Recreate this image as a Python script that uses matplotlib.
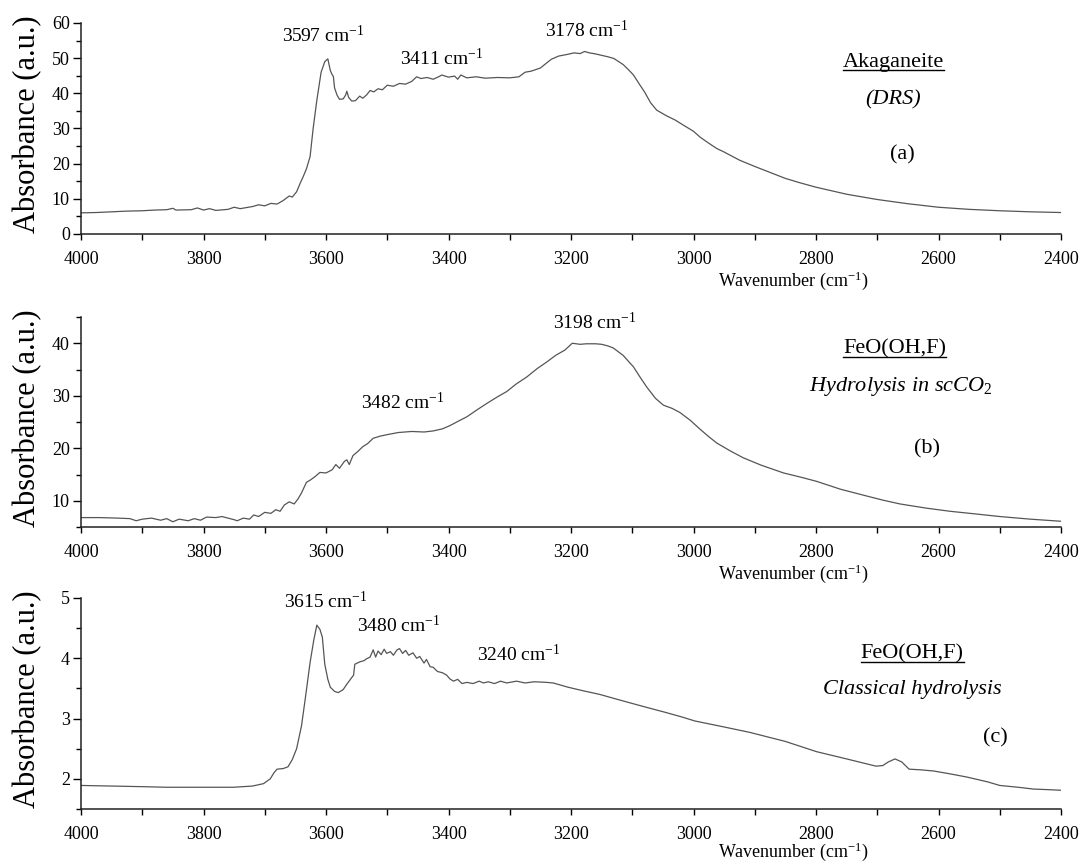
import matplotlib
matplotlib.use("Agg")
import matplotlib.pyplot as plt
from matplotlib.ticker import MultipleLocator
from matplotlib.lines import Line2D

plt.rcParams['font.family'] = ['Liberation Serif', 'DejaVu Serif']
plt.rcParams['mathtext.fontset'] = 'custom'
plt.rcParams['mathtext.rm'] = 'Liberation Serif'
plt.rcParams['mathtext.it'] = 'Liberation Serif:italic'

# (a) akaganeite, DRS
wn_a = [4000, 3975, 3950, 3925, 3900, 3880, 3860, 3850, 3845, 3820, 3810, 3800, 3790,
        3780, 3760, 3750, 3740, 3720, 3710, 3700, 3690, 3680, 3670, 3660, 3655, 3648,
        3642, 3638, 3632, 3626, 3621, 3615, 3608, 3602, 3597, 3593, 3590, 3588, 3586,
        3582, 3578, 3572, 3568, 3566, 3563, 3558, 3552, 3545, 3540, 3534, 3528, 3522,
        3515, 3508, 3500, 3490, 3480, 3470, 3460, 3452, 3445, 3435, 3425, 3415, 3411,
        3400, 3390, 3385, 3380, 3370, 3355, 3340, 3320, 3300, 3285, 3275, 3265, 3250,
        3240, 3232, 3220, 3205, 3195, 3185, 3178, 3170, 3160, 3150, 3140, 3130, 3115,
        3105, 3098, 3088, 3080, 3070, 3060, 3044, 3030, 3017, 3000, 2989, 2975, 2962,
        2950, 2925, 2900, 2875, 2850, 2825, 2800, 2750, 2700, 2650, 2600, 2550, 2500,
        2450, 2400]
abs_a = [6.0, 6.1, 6.3, 6.5, 6.6, 6.8, 6.9, 7.3, 6.8, 6.9, 7.4, 6.8, 7.2,
         6.7, 7.0, 7.6, 7.2, 7.8, 8.3, 8.0, 8.7, 8.5, 9.5, 10.8, 10.5, 12.0,
         14.5, 16.0, 18.5, 22.0, 30.0, 38.0, 46.0, 49.0, 49.8, 46.5, 45.3, 44.8, 41.5,
         39.5, 38.3, 38.4, 39.5, 40.6, 38.8, 37.8, 37.9, 39.2, 38.6, 39.5, 40.8, 40.4,
         41.3, 41.0, 42.3, 42.0, 42.8, 42.6, 43.4, 44.7, 44.2, 44.5, 44.0, 44.8, 45.2,
         44.6, 44.9, 44.0, 45.2, 44.4, 44.7, 44.3, 44.5, 44.4, 44.7, 46.0, 46.3, 47.2,
         48.6, 49.7, 50.6, 51.1, 51.5, 51.3, 51.9, 51.5, 51.2, 50.8, 50.4, 49.9, 48.2,
         46.5, 45.2, 42.5, 40.4, 37.3, 35.2, 33.6, 32.4, 31.0, 29.2, 27.5, 25.8, 24.3,
         23.3, 21.0, 19.2, 17.5, 15.8, 14.5, 13.3, 11.3, 9.8, 8.6, 7.6, 7.0, 6.6,
         6.3, 6.1]

# (b) FeO(OH,F), hydrolysis in scCO2
wn_b = [4000, 3970, 3940, 3920, 3910, 3900, 3885, 3870, 3860, 3850, 3840, 3825, 3815,
        3805, 3795, 3780, 3770, 3760, 3750, 3745, 3735, 3725, 3718, 3710, 3700, 3690,
        3682, 3675, 3668, 3660, 3652, 3646, 3640, 3632, 3625, 3618, 3610, 3600, 3590,
        3584, 3578, 3570, 3566, 3562, 3556, 3548, 3540, 3532, 3523, 3512, 3500, 3482,
        3460, 3440, 3425, 3410, 3398, 3385, 3370, 3355, 3338, 3320, 3305, 3290, 3272,
        3255, 3240, 3225, 3210, 3198, 3185, 3175, 3160, 3150, 3140, 3131, 3115, 3098,
        3087, 3076, 3062, 3049, 3035, 3022, 3005, 2989, 2975, 2962, 2940, 2919, 2890,
        2853, 2825, 2799, 2760, 2717, 2690, 2663, 2620, 2581, 2540, 2500, 2450, 2400]
abs_b = [6.8, 6.8, 6.7, 6.6, 6.2, 6.5, 6.7, 6.3, 6.6, 6.0, 6.5, 6.2, 6.6,
         6.3, 6.9, 6.8, 7.0, 6.7, 6.4, 6.2, 6.7, 6.5, 7.3, 7.0, 7.8, 7.6,
         8.3, 8.0, 9.2, 9.8, 9.4, 10.3, 11.5, 13.5, 14.0, 14.6, 15.4, 15.3, 15.9,
         16.9, 16.2, 17.5, 17.8, 16.9, 18.6, 19.4, 20.3, 20.9, 21.9, 22.3, 22.6, 23.0,
         23.2, 23.1, 23.3, 23.7, 24.3, 25.1, 26.0, 27.2, 28.5, 29.8, 30.8, 32.2, 33.6,
         35.2, 36.4, 37.7, 38.7, 40.0, 39.8, 39.9, 39.9, 39.8, 39.5, 39.1, 37.7, 35.5,
         33.5, 31.6, 29.5, 28.2, 27.6, 26.8, 25.3, 23.6, 22.2, 21.0, 19.5, 18.2, 16.8,
         15.3, 14.5, 13.7, 12.2, 10.9, 10.1, 9.4, 8.6, 8.0, 7.5, 7.0, 6.5, 6.1]

# (c) FeO(OH,F), classical hydrolysis
wn_c = [4000, 3950, 3900, 3860, 3800, 3751, 3720, 3702, 3691, 3685, 3680, 3670, 3662,
        3655, 3648, 3640, 3634, 3626, 3620, 3615, 3610, 3606, 3602, 3597, 3593, 3586,
        3580, 3572, 3566, 3558, 3555, 3553, 3545, 3538, 3534, 3528, 3523, 3519, 3515,
        3510, 3505, 3501, 3495, 3490, 3484, 3480, 3475, 3470, 3465, 3458, 3452, 3447,
        3440, 3436, 3430, 3425, 3418, 3410, 3403, 3398, 3392, 3385, 3378, 3370, 3360,
        3350, 3343, 3335, 3325, 3315, 3305, 3289, 3275, 3260, 3240, 3229, 3205, 3180,
        3153, 3125, 3100, 3071, 3045, 3017, 2998, 2950, 2908, 2850, 2799, 2750, 2702,
        2691, 2682, 2671, 2660, 2648, 2630, 2608, 2580, 2554, 2520, 2500, 2470, 2445,
        2420, 2400]
abs_c = [1.89, 1.88, 1.87, 1.86, 1.86, 1.86, 1.88, 1.92, 2.00, 2.10, 2.16, 2.17, 2.20,
         2.32, 2.50, 2.88, 3.32, 3.93, 4.30, 4.55, 4.48, 4.35, 3.90, 3.65, 3.52, 3.45,
         3.43, 3.48, 3.57, 3.68, 3.72, 3.90, 3.94, 3.96, 3.99, 4.02, 4.14, 4.02, 4.12,
         4.06, 4.15, 4.08, 4.11, 4.05, 4.14, 4.16, 4.08, 4.13, 4.05, 4.09, 4.00, 4.03,
         3.92, 3.98, 3.86, 3.85, 3.78, 3.76, 3.72, 3.66, 3.62, 3.65, 3.58, 3.60, 3.58,
         3.62, 3.59, 3.61, 3.58, 3.62, 3.59, 3.62, 3.59, 3.61, 3.60, 3.59, 3.52, 3.46,
         3.40, 3.32, 3.25, 3.17, 3.10, 3.02, 2.96, 2.86, 2.77, 2.62, 2.45, 2.33, 2.21,
         2.22, 2.28, 2.33, 2.28, 2.16, 2.15, 2.13, 2.08, 2.03, 1.95, 1.89, 1.86, 1.83,
         1.82, 1.81]

# peak labels: (text, wavenumber, absorbance) of the label centre
peaks_a = [("3597", 3605, 56.3), ("3411", 3411, 50.0), ("3178", 3175, 58.0)]
peaks_b = [("3198", 3161, 44.0), ("3482", 3474, 28.8)]
peaks_c = [("3615", 3601, 4.94), ("3480", 3482, 4.55), ("3240", 3285, 4.07)]

titles = [("Akaganeite", "(DRS)", "(a)"),
          ("FeO(OH,F)", r"Hydrolysis in scCO$_\mathit{2}$", "(b)"),
          ("FeO(OH,F)", "Classical hydrolysis", "(c)")]

fig = plt.figure(figsize=(10.83, 8.64), dpi=100)
LINE = '#555555'

# axes boxes in figure fraction: left, bottom, width, height
boxes = [[0.0748, 0.7292, 0.9049, 0.2442],
         [0.0748, 0.3900, 0.9049, 0.2431],
         [0.0748, 0.0637, 0.9049, 0.2442]]
ylims = [(0, 60), (5, 45), (1.5, 5)]
ymajor = [10, 10, 1]
yminor = [5, 5, 0.5]
data = [(wn_a, abs_a), (wn_b, abs_b), (wn_c, abs_c)]
peaks = [peaks_a, peaks_b, peaks_c]
xlabel_y = [-0.168, -0.168, -0.150]
# label anchor positions (axes fraction): name, subtitle, panel letter
label_pos = [((0.829, 0.815), (0.829, 0.635), (0.838, 0.374)),
             ((0.830, 0.848), (0.836, 0.667), (0.863, 0.371)),
             ((0.848, 0.735), (0.848, 0.564), (0.933, 0.336))]

axes = []
names = []
for i in range(3):
    ax = fig.add_axes(boxes[i])
    x, y = data[i]
    ax.plot(x, y, color=LINE, lw=0.9)
    ax.set_xlim(4000, 2400)
    ax.set_ylim(*ylims[i])
    ax.spines['top'].set_visible(False)
    ax.spines['right'].set_visible(False)
    for s in ('left', 'bottom'):
        ax.spines[s].set_linewidth(1.1)
        ax.spines[s].set_color('#222222')
    ax.xaxis.set_major_locator(MultipleLocator(200))
    ax.xaxis.set_minor_locator(MultipleLocator(100))
    ax.yaxis.set_major_locator(MultipleLocator(ymajor[i]))
    ax.yaxis.set_minor_locator(MultipleLocator(yminor[i]))
    ax.tick_params(axis='x', which='both', direction='out', length=4, width=1.0,
                   labelsize=13, pad=8)
    ax.tick_params(axis='y', which='major', direction='out', length=6, width=1.0,
                   labelsize=13, pad=2)
    ax.tick_params(axis='y', which='minor', direction='out', length=3.5, width=1.0)
    if i == 1:
        ax.set_yticks([10, 20, 30, 40])

    ax.set_ylabel("Absorbance (a.u.)", fontsize=22)
    ax.yaxis.set_label_coords(-0.040, 0.52)
    ax.set_xlabel(r"Wavenumber (cm$^{-1}$)", fontsize=13, va='top')
    ax.xaxis.set_label_coords(0.727, xlabel_y[i])

    for txt, px, py in peaks[i]:
        ax.text(px, py, txt + r" cm$^{-1}$", fontsize=14, ha='center', va='center')

    (nx, ny), (sx, sy), (lx, ly) = label_pos[i]
    name, sub, letter = titles[i]
    t = ax.text(nx, ny, name, transform=ax.transAxes, fontsize=16,
                ha='center', va='center')
    names.append(t)
    ax.text(sx, sy, sub, transform=ax.transAxes, fontsize=16, style='italic',
            ha='center', va='center')
    ax.text(lx, ly, letter, transform=ax.transAxes, fontsize=16,
            ha='center', va='center')
    axes.append(ax)

# underline the sample names
fig.canvas.draw()
renderer = fig.canvas.get_renderer()
W, H = fig.get_size_inches() * fig.dpi
for t in names:
    bb = t.get_window_extent(renderer)
    yb = bb.y0 + 1.5
    fig.add_artist(Line2D([bb.x0 / W, bb.x1 / W], [yb / H, yb / H],
                          color='black', lw=1.0))

fig.savefig("out.png", dpi=100)
